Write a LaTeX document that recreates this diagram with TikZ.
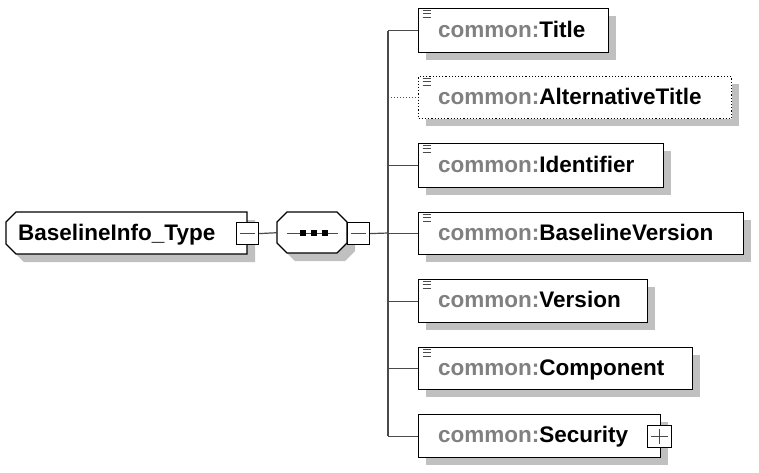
\documentclass[tikz,border=0pt]{standalone}
\usepackage{fontspec}
\setmainfont{Liberation Sans}
\definecolor{shadowgray}{HTML}{C0C0C0}
\definecolor{prefixgray}{HTML}{808080}
\definecolor{linegray}{HTML}{4A4A4A}
\tikzset{
  boxline/.style={draw=black, line width=1.2pt, fill=white},
  conn/.style={draw=linegray, line width=1.2pt},
  label/.style={anchor=base west, inner sep=0pt, font=\fontsize{22.5}{26}\selectfont\bfseries},
  ctrl/.style={draw=black, line width=1.2pt, fill=white, inner sep=0pt, minimum width=22pt, minimum height=22pt, anchor=north west},
  childbox/.style={draw=black, line width=1.2pt, fill=white, inner sep=0pt, anchor=north west},
  iconline/.style={draw=linegray, line width=1pt},
}
\newcommand{\childbox}[6]{%
  \fill[shadowgray] (426,#2+8) rectangle (#4+8,#3+8);
  \node[childbox, #6, minimum width={#4pt-418pt}, minimum height={#3pt-#2pt}] (#1) at (418,#2) {};
  \node[label] (#1t) at (438,{(#2+#3)/2+7}) {\textcolor{prefixgray}{common:}#5};
}
\newcommand{\docicon}[1]{%
  \draw[iconline] (422.5,#1+2.5) -- (430.5,#1+2.5);
  \draw[iconline] (422.5,#1+5.8) -- (430.5,#1+5.8);
  \draw[iconline] (422.5,#1+9.1) -- (430.5,#1+9.1);
}
\begin{document}
\begin{tikzpicture}[x=1pt,y=-1pt]
\useasboundingbox (0,0) rectangle (759,472);
\fill[white] (0,0) rectangle (759,472);

% root element
\fill[shadowgray, shift={(8,8)}] (16,212) -- (247,212) -- (247,254) -- (16,254) -- (6,244) -- (6,222) -- cycle;
\draw[boxline] (16,212) -- (247,212) -- (247,254) -- (16,254) -- (6,244) -- (6,222) -- cycle;
\node[label] (roott) at (18,240) {BaselineInfo\_Type};
\node[ctrl] (rootm) at (236,222) {};
\draw[iconline] ([xshift=4pt]rootm.west) -- ([xshift=-4pt]rootm.east);

% sequence compositor
\fill[shadowgray, shift={(8,8)}] (277,222) -- (287,212) -- (337,212) -- (347,222) -- (347,243) -- (337,253) -- (287,253) -- (277,243) -- cycle;
\draw[boxline] (277,222) -- (287,212) -- (337,212) -- (347,222) -- (347,243) -- (337,253) -- (287,253) -- (277,243) -- cycle;
\node[inner sep=0pt, minimum width=70pt, minimum height=41pt, anchor=north west] (seq) at (277,212) {};
\draw[iconline] (287,233) -- (338,233);
\fill[black] (300,230) rectangle (306,236);
\fill[black] (311,230) rectangle (317,236);
\fill[black] (322,230) rectangle (328,236);
\node[ctrl] (seqm) at (347,222) {};
\draw[iconline] ([xshift=4pt]seqm.west) -- ([xshift=-4pt]seqm.east);

\draw[conn] (rootm.east) -- (seq.west);

% children
\childbox{c1}{8}{52}{608}{Title}{}
\docicon{8}
\childbox{c2}{76}{118}{731}{AlternativeTitle}{dotted, line width=1pt}
\docicon{76}
\childbox{c3}{143}{187}{663}{Identifier}{}
\docicon{143}
\childbox{c4}{212}{254}{743}{BaselineVersion}{}
\docicon{212}
\childbox{c5}{279}{322}{647}{Version}{}
\docicon{279}
\childbox{c6}{347}{389}{692}{Component}{}
\docicon{347}
\childbox{c7}{414}{457}{660}{Security}{}
\node[ctrl, minimum width=24pt] (secplus) at (647,425) {};
\draw[iconline] ([xshift=4pt]secplus.west) -- ([xshift=-4pt]secplus.east);
\draw[iconline] ([yshift=-4pt]secplus.north) -- ([yshift=4pt]secplus.south);

% bus
\coordinate (bus) at (388,233);
\draw[conn] (seqm.east) -- (bus);
\draw[conn] (c1.west -| bus) -- (c7.west -| bus);
\draw[conn] (c1.west -| bus) -- (c1.west);
\draw[conn, line width=1pt, dotted] (c2.west -| bus) -- (c2.west);
\draw[conn] (c3.west -| bus) -- (c3.west);
\draw[conn] (c4.west -| bus) -- (c4.west);
\draw[conn] (c5.west -| bus) -- (c5.west);
\draw[conn] (c6.west -| bus) -- (c6.west);
\draw[conn] (c7.west -| bus) -- (c7.west);
\end{tikzpicture}
\end{document}
